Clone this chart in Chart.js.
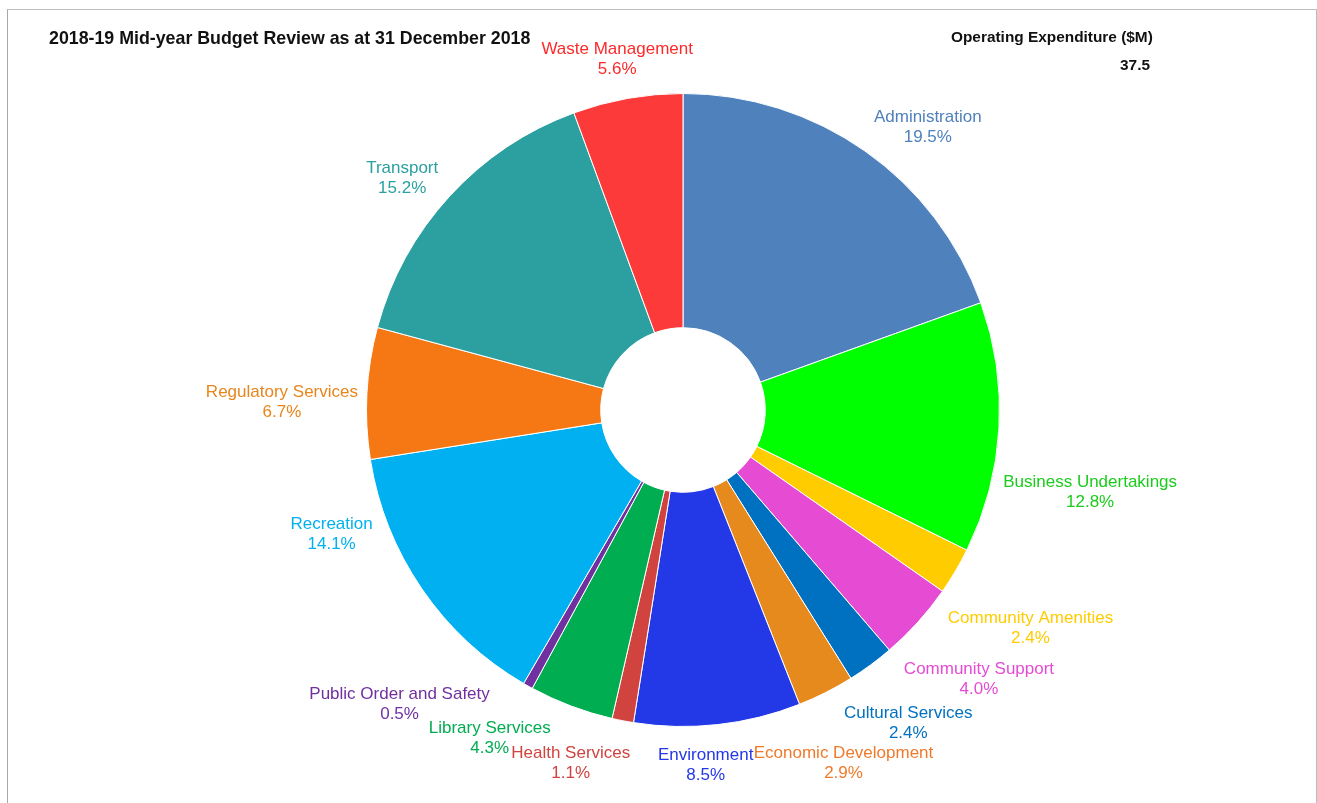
<!DOCTYPE html>
<html>
<head>
<meta charset="utf-8">
<script src="https://cdn.jsdelivr.net/npm/chart.js@4/dist/chart.umd.min.js"></script>
<style>
  html, body { margin: 0; padding: 0; background: #fff; }
  body { width: 1317px; height: 803px; position: relative; overflow: hidden; font-family: "Liberation Sans", Arial, sans-serif; }
  #frame { position: absolute; left: 7px; top: 9px; width: 1308px; height: 800px; border: 1px solid #bcbcbc; border-bottom: none; border-left-color: #a8a8a8; }
  #wrap { position: absolute; left: 0; top: 0; width: 1317px; height: 803px; }
  .title { position: absolute; left: 49px; top: 28px; font-size: 17.8px; font-weight: bold; color: #111; white-space: nowrap; }
  .head { position: absolute; left: 951px; top: 28px; font-size: 15.4px; font-weight: bold; color: #111; white-space: nowrap; }
  .total { position: absolute; left: 949px; width: 201px; top: 56px; font-size: 15.4px; font-weight: bold; color: #111; text-align: right; }
</style>
</head>
<body>
<div id="frame"></div>
<div id="wrap"><canvas id="pie"></canvas></div>
<div class="title">2018-19 Mid-year Budget Review as at 31 December 2018</div>
<div class="head">Operating Expenditure ($M)</div>
<div class="total" id="total"></div>
<script>
const categories = [
  'Administration', 'Business Undertakings', 'Community Amenities', 'Community Support',
  'Cultural Services', 'Economic Development', 'Environment', 'Health Services',
  'Library Services', 'Public Order and Safety', 'Recreation', 'Regulatory Services',
  'Transport', 'Waste Management',
];
// share of operating expenditure, %
const shares = [19.5, 12.8, 2.4, 4.0, 2.4, 2.9, 8.5, 1.1, 4.3, 0.5, 14.1, 6.7, 15.2, 5.6];
const totalSpend = 37.5; // $M

const sliceColors = [
  '#4f81bd', '#00ff00', '#ffcc00', '#e64bd4', '#0070c0', '#e68a1e', '#2338e6',
  '#d0433f', '#00ad50', '#7030a0', '#00b0f0', '#f57814', '#2ca0a0', '#fc3a3a',
];
const labelColors = [
  '#4f81bd', '#1ccc1c', '#ffcc00', '#e64bd4', '#0070c0', '#f07a2a', '#2338e6',
  '#d0433f', '#00ad50', '#7030a0', '#00b0f0', '#e8861e', '#2ca0a0', '#fc2a2a',
];
// crowded labels get swung round a little so they don't collide (degrees)
const labelNudgeDeg = [5.3, 7.5, 0.9, -0.4, 0.2, 2.1, 2.6, 6.9, 10.2, 15.1, 15.6, -1.3, -2.3, -0.4];

document.getElementById('total').textContent = totalSpend.toFixed(1);

// labels sit just outside each slice, pushed out so the text box clears the rim
const outsideLabels = {
  id: 'outsideLabels',
  afterDatasetsDraw(chart) {
    const ctx = chart.ctx;
    const arcs = chart.getDatasetMeta(0).data;
    const sum = shares.reduce((a, b) => a + b, 0);
    ctx.save();
    ctx.font = '17px "Liberation Sans", Arial, sans-serif';
    ctx.textAlign = 'center';
    ctx.textBaseline = 'middle';
    arcs.forEach((arc, i) => {
      const { x, y, startAngle, endAngle, outerRadius } = arc.getProps(['x', 'y', 'startAngle', 'endAngle', 'outerRadius'], true);
      const mid = (startAngle + endAngle) / 2 + labelNudgeDeg[i] * Math.PI / 180;
      const ux = Math.cos(mid), uy = Math.sin(mid);
      const line1 = categories[i];
      const line2 = (shares[i] / sum * 100).toFixed(1) + '%';
      const w = Math.max(ctx.measureText(line1).width, ctx.measureText(line2).width);
      const h = 48;
      const reach = Math.abs(ux) * w / 2 + Math.abs(uy) * h / 2;
      const d = outerRadius + 8 + reach;
      const cx = x + ux * d, cy = y + uy * d + 5;
      ctx.fillStyle = labelColors[i];
      ctx.fillText(line1, cx, cy - 10);
      ctx.fillText(line2, cx, cy + 10);
    });
    ctx.restore();
  },
};

new Chart(document.getElementById('pie'), {
  type: 'doughnut',
  data: {
    labels: categories,
    datasets: [{
      data: shares,
      backgroundColor: sliceColors,
      borderColor: '#ffffff',
      borderWidth: 1,
    }],
  },
  options: {
    responsive: true,
    maintainAspectRatio: false,
    animation: false,
    cutout: '26%',
    layout: { padding: { top: 93, bottom: 76, left: 49, right: 0 } },
    plugins: {
      legend: { display: false },
      tooltip: { enabled: false },
    },
  },
  plugins: [outsideLabels],
});
</script>
</body>
</html>
